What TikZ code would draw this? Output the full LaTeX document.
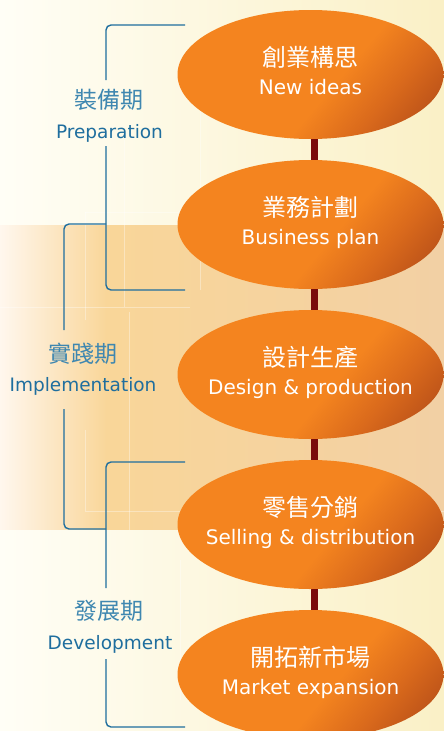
\documentclass[tikz,border=0pt]{standalone}
\usepackage{fontspec}
\setmainfont{DejaVu Sans}
\newfontfamily\cjk{Noto Sans CJK TC}
\usetikzlibrary{shapes.geometric,calc}
\definecolor{eor}{HTML}{F4841F}
\definecolor{emid}{HTML}{DA6A1C}
\definecolor{edark}{HTML}{BE5419}
\definecolor{blu}{HTML}{1F6E9E}
\definecolor{blulight}{HTML}{3F87B0}
\definecolor{barred}{HTML}{7A0B0B}
\definecolor{creamL}{HTML}{FFFEF6}
\definecolor{creamR}{HTML}{FAF0C6}
\definecolor{peachL}{HTML}{FFF7EE}
\definecolor{peachM}{HTML}{F9D699}
\definecolor{peachR}{HTML}{F2D0A4}
\pgfdeclarelayer{back}
\pgfdeclarelayer{mid}
\pgfsetlayers{back,mid,main}
\pgfdeclarehorizontalshading{ellshade}{100bp}{color(0bp)=(eor); color(25bp)=(eor); color(56bp)=(eor); color(68bp)=(emid); color(78bp)=(edark); color(100bp)=(edark)}
\pgfdeclarehorizontalshading{bandshade}{100bp}{color(0bp)=(peachL); color(25bp)=(peachL); color(37bp)=(peachM); color(75bp)=(peachR); color(100bp)=(peachR)}
\tikzset{
  ell/.style={ellipse, minimum width=266pt, minimum height=129pt, inner sep=0pt, shade, shading=ellshade, shading angle=-40},
  etitle/.style={text=white, font=\cjk\fontsize{24pt}{28pt}\selectfont, inner sep=0pt},
  esub/.style={text=white, font=\fontsize{20pt}{24pt}\selectfont, inner sep=0pt, anchor=base},
  ltitle/.style={text=blulight, font=\cjk\fontsize{23pt}{27pt}\selectfont, inner sep=0pt},
  lsub/.style={text=blu, font=\fontsize{18.5pt}{22pt}\selectfont, inner sep=0pt, anchor=base},
  brk/.style={draw=blu, line width=1.4pt, rounded corners=5pt},
  barline/.style={draw=barred, line width=7pt},
  faint/.style={draw=white, opacity=0.35, line width=0.8pt}
}
\begin{document}
\begin{tikzpicture}[x=1pt,y=-1pt]
\useasboundingbox (0,0) rectangle (444,731);
% background
\begin{pgfonlayer}{back}
\fill[left color=creamL, right color=creamR] (0,0) rectangle (444,225);
\fill[shading=bandshade] (0,225) rectangle (444,530);
\fill[left color=creamL, right color=creamR] (0,530) rectangle (444,731);
% faint grid lines
\draw[faint] (200,62) -- (444,62);
\draw[faint] (85,212) -- (444,212);
\draw[faint] (200,50) -- (200,290);
\draw[faint] (85,212) -- (85,320);
\draw[faint] (124,140) -- (124,307);
\draw[faint] (0,307) -- (190,307);
\draw[faint] (129,312) -- (129,530);
\draw[faint] (85,430) -- (85,511);
\draw[faint] (85,511) -- (444,511);
\draw[faint] (180,560) -- (180,700);
\end{pgfonlayer}
% ellipses
\node[ell] (e1) at (310.5,74.5) {};
\node[ell] (e2) at (310.5,224.5) {};
\node[ell] (e3) at (310.5,374.5) {};
\node[ell] (e4) at (310.5,524.5) {};
\node[ell] (e5) at (310.5,674.5) {};
% bars behind ellipses
\begin{pgfonlayer}{mid}
\draw[barline] ([xshift=3.5pt]e1.south) -- ([xshift=3.5pt]e2.north);
\draw[barline] ([xshift=3.5pt]e2.south) -- ([xshift=3.5pt]e3.north);
\draw[barline] ([xshift=3.5pt]e3.south) -- ([xshift=3.5pt]e4.north);
\draw[barline] ([xshift=3.5pt]e4.south) -- ([xshift=3.5pt]e5.north);
\end{pgfonlayer}
% ellipse texts
\node[etitle] (t1) at (310.5,57.5) {創業構思};
\node[esub] (s1) at (310.5,94) {New ideas};
\node[etitle] (t2) at (310.5,207.5) {業務計劃};
\node[esub] (s2) at (310.5,244) {Business plan};
\node[etitle] (t3) at (310.5,357.5) {設計生產};
\node[esub] (s3) at (310.5,394) {Design \& production};
\node[etitle] (t4) at (310.5,507.5) {零售分銷};
\node[esub] (s4) at (310.5,544) {Selling \& distribution};
\node[etitle] (t5) at (310.5,657.5) {開拓新市場};
\node[esub] (s5) at (310.5,694) {Market expansion};
% phase labels
\node[ltitle] (p1) at (109,99.5) {裝備期};
\node[lsub] (p1s) at (109.5,138) {Preparation};
\node[ltitle] (p2) at (82.5,353.5) {實踐期};
\node[lsub] (p2s) at (83,391) {Implementation};
\node[ltitle] (p3) at (109,611) {發展期};
\node[lsub] (p3s) at (110,649) {Development};
% bracket coordinates
\coordinate (a1) at (185,25);
\coordinate (a2) at (106,25);
\coordinate (a3) at (106,80);
\coordinate (a4) at (106,146);
\coordinate (a5) at (106,290);
\coordinate (a6) at (185,290);
\coordinate (b1) at (106,224);
\coordinate (b2) at (64,224);
\coordinate (b3) at (64,330);
\coordinate (b4) at (64,409);
\coordinate (b5) at (64,529);
\coordinate (b6) at (106,529);
\coordinate (c1) at (185,462);
\coordinate (c2) at (106,462);
\coordinate (c3) at (106,588);
\coordinate (c4) at (106,659);
\coordinate (c5) at (106,727);
\coordinate (c6) at (185,727);
\draw[brk] (a1) -- (a2) -- (a3);
\draw[brk] (a4) -- (a5) -- (a6);
\draw[brk] (b1) -- (b2) -- (b3);
\draw[brk] (b4) -- (b5) -- (b6);
\draw[brk] (c1) -- (c2) -- (c3);
\draw[brk] (c4) -- (c5) -- (c6);
\end{tikzpicture}
\end{document}
